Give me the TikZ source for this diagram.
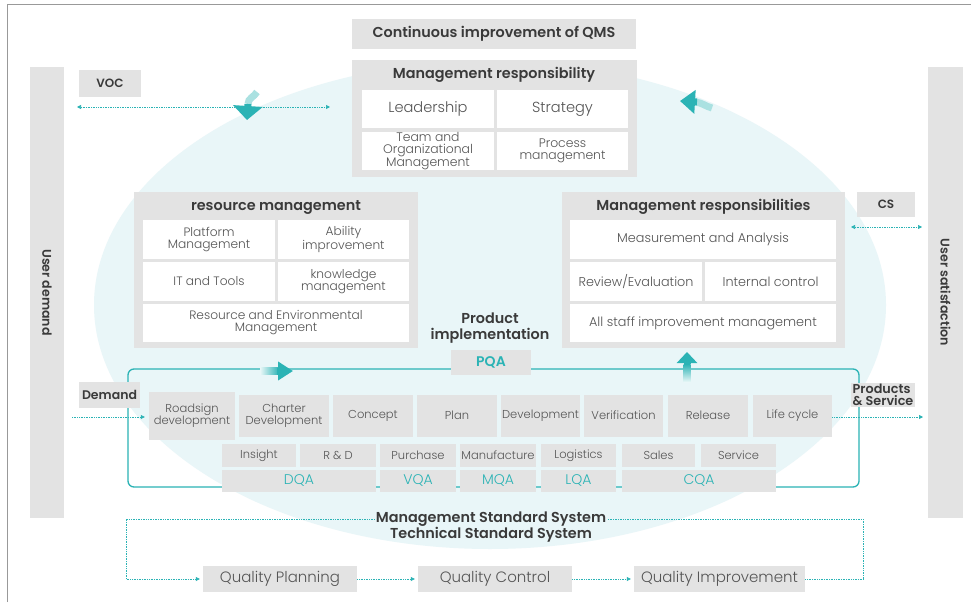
\documentclass[tikz,border=0pt]{standalone}
\usepackage{fontspec}
\setmainfont{Poppins}[UprightFont=* Light, BoldFont=* SemiBold]
\usetikzlibrary{positioning,arrows.meta}
\definecolor{boxgray}{HTML}{E3E3E3}
\definecolor{qmsteal}{HTML}{2BB3B5}
\definecolor{ellblue}{HTML}{E9F6F8}
\definecolor{txtdark}{HTML}{3A3A3A}
\definecolor{txtgray}{HTML}{555555}

\begin{document}
\begin{tikzpicture}[x=1pt, y=-1pt]
    \tikzset{panel/.style={fill=boxgray, inner sep=0pt},
             head/.style={text=txtdark, font=\bfseries\fontsize{14.4}{16}\selectfont, align=center},
             tag/.style={fill=boxgray, text=txtdark, font=\bfseries\fontsize{12}{13}\selectfont, inner sep=1pt},
             cell/.style={fill=white, inner sep=1pt, align=center, text=txtgray, font=\fontsize{12.2}{12}\selectfont},
             proc/.style={fill=boxgray, inner sep=1pt, align=center, text=txtgray, font=\fontsize{11.5}{12}\selectfont, minimum height=42pt},
             sub/.style={fill=boxgray, inner sep=1pt, text=txtgray, font=\fontsize{11.5}{12}\selectfont, minimum height=23pt},
             qa/.style={fill=boxgray, inner sep=1pt, text=qmsteal, font=\fontsize{14}{15}\selectfont, minimum height=22pt},
             quality/.style={fill=boxgray, inner sep=1pt, text=txtgray, font=\fontsize{15}{16}\selectfont, minimum height=26pt},
             sidetext/.style={rotate=-90, text=txtdark, font=\bfseries\fontsize{12.6}{14}\selectfont},
             dotlink/.style={qmsteal, densely dotted, line width=0.7pt},
             tip/.style={-{Triangle[length=4pt, width=4pt]}},
             bigarrow/.style={qmsteal, line width=7pt, -{Triangle[length=15pt, width=24pt]}}}
    \useasboundingbox (0,0) rectangle (971,602);
    \fill[white] (0,0) rectangle (971,602);
    \draw[gray!80, line width=1pt] (7,602) -- (7,5) -- (971,5);
    % background oval
    \fill[ellblue] (490,305) ellipse [x radius=396pt, y radius=244pt];

    % side bars
    \node[panel, minimum width=34pt, minimum height=451pt] (demandbar) at (47,292.5) {};
    \node[sidetext] at (demandbar) {User demand};
    \node[panel, minimum width=35pt, minimum height=451pt] (satbar) at (945.5,292.5) {};
    \node[sidetext] at (satbar) {User satisfaction};

    % top
    \node[panel, head, minimum width=284pt, minimum height=30pt] (qms) at (494,34) {Continuous improvement of QMS};
    \node[panel, minimum width=285pt, minimum height=117pt] (mr) at (494.5,118.5) {};
    \node[head] (mrhead) at (494,75) {Management responsibility};
    \node[cell, font=\fontsize{14.6}{15}\selectfont, minimum width=132pt, minimum height=38pt] (lead) at (428,109) {Leadership};
    \node[cell, font=\fontsize{14.6}{15}\selectfont, minimum width=131pt, minimum height=38pt] (strat) at (562.5,109) {Strategy};
    \node[cell, font=\fontsize{12.4}{11.6}\selectfont, minimum width=132pt, minimum height=38pt] (team) at (428,151) {Team and\\Organizational\\Management};
    \node[cell, font=\fontsize{12.4}{11.6}\selectfont, minimum width=131pt, minimum height=38pt] (proc) at (562.5,151) {Process\\management};

    \node[tag, minimum width=62pt, minimum height=27pt] (voc) at (110,83.5) {VOC};
    \coordinate (vocl) at (77,107);
    \coordinate (vocr) at (330,107);
    \draw[dotlink, {Triangle[length=4pt, width=4pt]}-{Triangle[length=4pt, width=4pt]}] (vocl) -- (vocr);
    \draw[qmsteal!40, line width=7pt] (257,92) to[out=240, in=90] (248,104);
    \draw[bigarrow, -{Triangle[length=14pt, width=29pt]}] (248,104) -- (247,120);
    \draw[qmsteal!40, line width=7pt] (712,108) to[out=165, in=-10] (696,102);
    \draw[bigarrow, -{Triangle[length=15pt, width=23pt]}] (697,102) -- (680,101);

    % resource management
    \node[panel, minimum width=284pt, minimum height=156pt] (res) at (276,270) {};
    \node[head] (reshead) at (276,207) {resource management};
    \node[cell, minimum width=132pt, minimum height=39pt] (platform) at (209,239.5) {Platform\\Management};
    \node[cell, minimum width=131pt, minimum height=39pt] (ability) at (343.5,239.5) {Ability\\improvement};
    \node[cell, minimum width=132pt, minimum height=39pt] (ittools) at (209,281.5) {IT and Tools};
    \node[cell, minimum width=131pt, minimum height=39pt] (know) at (343.5,281.5) {knowledge\\management};
    \node[cell, minimum width=266pt, minimum height=38pt] (resenv) at (276,323) {Resource and Environmental\\Management};

    % management responsibilities
    \node[panel, minimum width=283pt, minimum height=156pt] (mresp) at (703.5,270) {};
    \node[head] (mresphead) at (703.5,207) {Management responsibilities};
    \node[cell, font=\fontsize{12.8}{13}\selectfont, minimum width=266pt, minimum height=39pt] (meas) at (703,239.5) {Measurement and Analysis};
    \node[cell, font=\fontsize{12.8}{13}\selectfont, minimum width=132pt, minimum height=39pt] (review) at (636,281.5) {Review/Evaluation};
    \node[cell, font=\fontsize{12.8}{13}\selectfont, minimum width=131pt, minimum height=39pt] (internal) at (770.5,281.5) {Internal control};
    \node[cell, font=\fontsize{12.8}{13}\selectfont, minimum width=266pt, minimum height=38pt] (staff) at (703,323) {All staff improvement management};

    \node[tag, minimum width=58pt, minimum height=25pt] (cs) at (886,204.5) {CS};
    \coordinate (csl) at (851,227);
    \coordinate (csr) at (922,227);
    \draw[dotlink, {Triangle[length=4pt, width=4pt]}-{Triangle[length=4pt, width=4pt]}] (csl) -- (csr);

    % product implementation
    \node[head] (prodimpl) at (490,328) {Product\\implementation};
    \draw[qmsteal, line width=1.3pt, rounded corners=6pt] (128,369) rectangle (859,487);
    \node[panel, minimum width=80pt, minimum height=25pt, text=qmsteal, font=\bfseries\fontsize{14}{15}\selectfont] (pqa) at (491,362.5) {PQA};
    \shade[left color=qmsteal!10, right color=qmsteal] (260,367.5) rectangle (279,374.5);
    \draw[bigarrow, -{Triangle[length=15pt, width=18pt]}] (277,371) -- (293,371);
    \shade[bottom color=qmsteal!10, top color=qmsteal] (683.5,364) rectangle (690.5,382);
    \draw[bigarrow, -{Triangle[length=11pt, width=20pt]}] (687,364) -- (687,352);

    \node[tag, minimum width=61pt, minimum height=26pt, font=\bfseries\fontsize{12.5}{13}\selectfont] (demand) at (109.5,395) {Demand};
    \node[tag, align=left, minimum width=64pt, minimum height=24pt, font=\bfseries\fontsize{12.8}{11.5}\selectfont] (prodserv) at (883,395) {Products\\\& Service};

    \node[proc, minimum width=86pt, minimum height=48pt] (road) at (192,416) {Roadsign\\development};
    \node[proc, minimum width=90pt] (charter) at (284,415.5) {Charter\\Development};
    \node[proc, minimum width=80pt] (concept) at (373,415.5) {Concept};
    \node[proc, minimum width=80pt] (plan) at (457,415.5) {Plan};
    \node[proc, minimum width=79pt] (dev) at (540.5,415.5) {Development};
    \node[proc, minimum width=79pt] (verif) at (623.5,415.5) {Verification};
    \node[proc, minimum width=80pt] (release) at (708,415.5) {Release};
    \node[proc, minimum width=79pt] (life) at (792.5,415.5) {Life cycle};

    \node[sub, minimum width=74pt] (insight) at (259,455.5) {Insight};
    \node[sub, minimum width=76pt] (rnd) at (338,455.5) {R \& D};
    \node[sub, minimum width=76pt] (purchase) at (418,455.5) {Purchase};
    \node[sub, minimum width=76pt] (manuf) at (498,455.5) {Manufacture};
    \node[sub, minimum width=75pt] (logist) at (578.5,455.5) {Logistics};
    \node[sub, minimum width=73pt] (sales) at (658.5,455.5) {Sales};
    \node[sub, minimum width=75pt] (service) at (738.5,455.5) {Service};

    \node[qa, minimum width=154pt] (dqa) at (299,481) {DQA};
    \node[qa, minimum width=76pt] (vqa) at (418,481) {VQA};
    \node[qa, minimum width=76pt] (mqa) at (498,481) {MQA};
    \node[qa, minimum width=75pt] (lqa) at (578.5,481) {LQA};
    \node[qa, minimum width=154pt] (cqa) at (699,481) {CQA};

    \coordinate (demandl) at (72,417);
    \coordinate (prodr) at (923,417);
    \draw[dotlink, tip, shorten >=4pt] (demandl) -- (demandl -| road.west);
    \draw[dotlink, tip] (life.east |- prodr) -- (prodr);

    % standard systems and quality loop
    \node[head, inner sep=1pt] (stdm) at (491,519) {Management Standard System};
    \node[head, inner sep=1pt, below=-1pt of stdm] (stdt) {Technical Standard System};
    \node[quality, minimum width=154pt] (qp) at (280,579) {Quality Planning};
    \node[quality, minimum width=154pt] (qc) at (495,579) {Quality Control};
    \node[quality, minimum width=171pt] (qi) at (719.5,579) {Quality Improvement};
    \coordinate (loopl) at (126,519);
    \coordinate (loopr) at (863,519);
    \draw[dotlink] (qi.east) -- (qi.east -| loopr) -- (loopr) -- (stdm.east);
    \draw[dotlink, tip, shorten >=3pt] (stdm.west) -- (loopl) -- (loopl |- qp.west) -- (qp.west);
    \path[dotlink, tip, shorten >=3pt]
        (qp) edge (qc)
        (qc) edge (qi);
\end{tikzpicture}
\end{document}
